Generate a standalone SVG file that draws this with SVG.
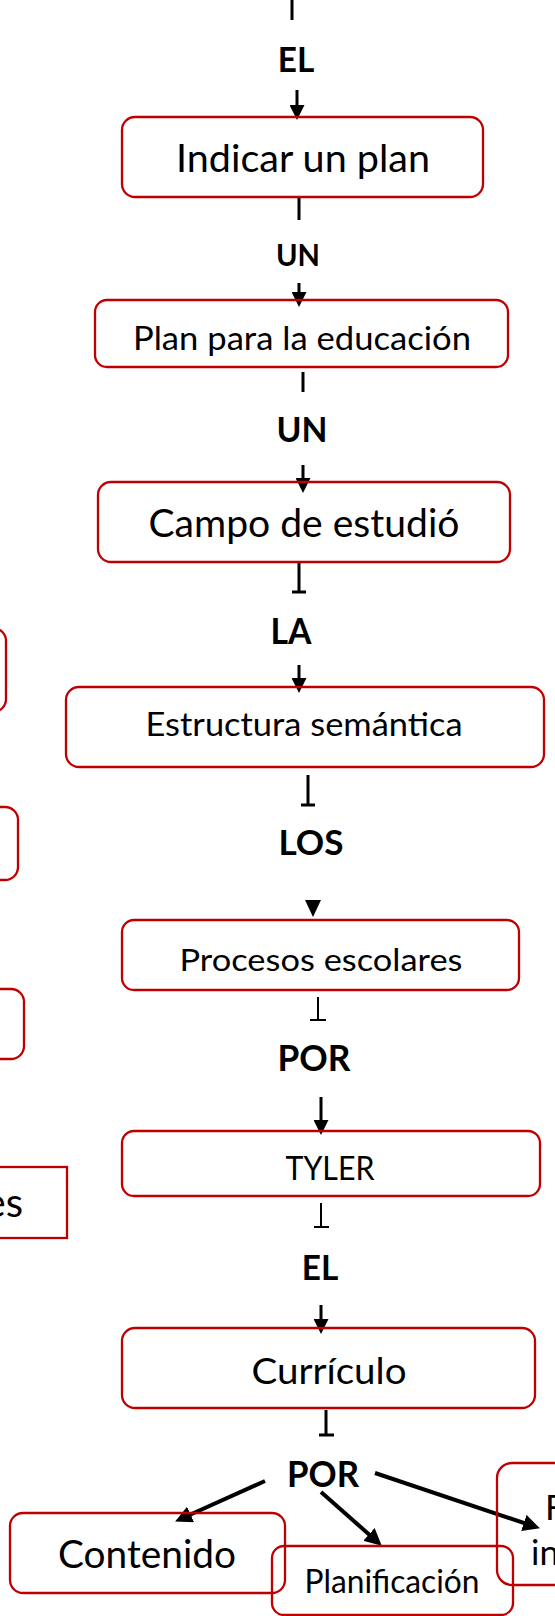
<svg xmlns="http://www.w3.org/2000/svg" width="555" height="1616" viewBox="0 0 555 1616">
<style>
.box{fill:none;stroke:#C00000;stroke-width:2.3}
.t{font-family:Lato,"Liberation Sans",Arial,sans-serif;fill:#000;text-anchor:middle}
.b{font-family:Lato,"Liberation Sans",Arial,sans-serif;font-weight:bold;fill:#000;text-anchor:middle}
.c{fill:none;stroke:#000;stroke-width:3}
.thin{fill:none;stroke:#000;stroke-width:2}
.d{fill:none;stroke:#000;stroke-width:4}
</style>
<defs>
<marker id="ah" markerUnits="userSpaceOnUse" markerWidth="15" markerHeight="15" refX="7" refY="7.5" orient="auto">
<path d="M0,0 L15,7.5 L0,15 z" fill="#000"/>
</marker>
<marker id="ah2" markerUnits="userSpaceOnUse" markerWidth="17" markerHeight="17" refX="8" refY="8.5" orient="auto">
<path d="M0,0 L17,8.5 L0,17 z" fill="#000"/>
</marker>
</defs>

<g id="connectors">
<line class="c" x1="292" y1="0" x2="292" y2="20"/>
<line class="c" x1="297" y1="90" x2="297" y2="112" marker-end="url(#ah)"/>
<line class="c" x1="299" y1="197" x2="299" y2="220"/>
<line class="c" x1="299" y1="283" x2="299" y2="299" marker-end="url(#ah)"/>
<line class="c" x1="303" y1="372" x2="303" y2="392"/>
<line class="c" x1="303" y1="465" x2="303" y2="485" marker-end="url(#ah)"/>
<path class="c" d="M299,562 V592 M292,592 H306"/>
<line class="c" x1="299" y1="665" x2="299" y2="685" marker-end="url(#ah)"/>
<path class="c" d="M308,775 V805 M301,805 H315"/>
<polygon points="305,900 321,900 313,917" fill="#000"/>
<path class="thin" d="M318,997 V1020 M310,1020 H326"/>
<line class="c" x1="321" y1="1097" x2="321" y2="1127" marker-end="url(#ah)"/>
<path class="thin" d="M321,1203 V1227 M314,1227 H329"/>
<line class="c" x1="321" y1="1305" x2="321" y2="1326" marker-end="url(#ah)"/>
<path class="c" d="M326,1410 V1435 M319,1435 H334"/>
<line class="d" x1="265" y1="1481" x2="183.3" y2="1517.7" marker-end="url(#ah2)"/>
<line class="d" x1="321" y1="1492" x2="375" y2="1539.7" marker-end="url(#ah2)"/>
<line class="d" x1="375" y1="1473" x2="531.4" y2="1525.5" marker-end="url(#ah2)"/>
</g>

<g id="lbl-el1"><text class="b" x="296" y="72" font-size="35" textLength="36.5" lengthAdjust="spacingAndGlyphs">EL</text></g>
<g id="n-indicar">
<rect class="box" x="122" y="117" width="361" height="80" rx="13"/>
<text class="t" x="303" y="172" font-size="38.5" textLength="254" lengthAdjust="spacingAndGlyphs">Indicar un plan</text>
</g>
<g id="lbl-un1"><text class="b" x="298" y="266" font-size="31" textLength="44" lengthAdjust="spacingAndGlyphs">UN</text></g>
<g id="n-plan">
<rect class="box" x="95" y="300" width="413" height="67" rx="12"/>
<text class="t" x="302" y="350" font-size="33" textLength="338" lengthAdjust="spacingAndGlyphs">Plan para la educación</text>
</g>
<g id="lbl-un2"><text class="b" x="302" y="442" font-size="35" textLength="51" lengthAdjust="spacingAndGlyphs">UN</text></g>
<g id="n-campo">
<rect class="box" x="98" y="482" width="412" height="80" rx="13"/>
<text class="t" x="304" y="537" font-size="38" textLength="311" lengthAdjust="spacingAndGlyphs">Campo de estudió</text>
</g>
<g id="lbl-la"><text class="b" x="291" y="644" font-size="36" textLength="41" lengthAdjust="spacingAndGlyphs">LA</text></g>
<g id="n-estructura">
<rect class="box" x="66" y="687" width="478" height="80" rx="13"/>
<text class="t" x="304" y="736" font-size="33" textLength="317" lengthAdjust="spacingAndGlyphs">Estructura semántica</text>
</g>
<g id="lbl-los"><text class="b" x="311" y="855" font-size="35" textLength="65" lengthAdjust="spacingAndGlyphs">LOS</text></g>
<g id="n-procesos">
<rect class="box" x="122" y="920" width="397" height="70" rx="12"/>
<text class="t" x="321" y="971" font-size="31.5" textLength="283" lengthAdjust="spacingAndGlyphs">Procesos escolares</text>
</g>
<g id="lbl-por1"><text class="b" x="314" y="1071" font-size="36" textLength="73" lengthAdjust="spacingAndGlyphs">POR</text></g>
<g id="n-tyler">
<rect class="box" x="122" y="1131" width="418" height="65" rx="12"/>
<text class="t" x="330" y="1180" font-size="32" textLength="89" lengthAdjust="spacingAndGlyphs">TYLER</text>
</g>
<g id="lbl-el2"><text class="b" x="320" y="1280" font-size="35" textLength="36.5" lengthAdjust="spacingAndGlyphs">EL</text></g>
<g id="n-curriculo">
<rect class="box" x="122" y="1328" width="413" height="80" rx="13"/>
<text class="t" x="329" y="1384" font-size="37" textLength="155" lengthAdjust="spacingAndGlyphs">Currículo</text>
</g>
<g id="lbl-por2"><text class="b" x="323" y="1487" font-size="37" textLength="72" lengthAdjust="spacingAndGlyphs">POR</text></g>
<g id="n-contenido">
<rect class="box" x="10" y="1513" width="275" height="80" rx="13"/>
<text class="t" x="147" y="1568" font-size="39" textLength="178" lengthAdjust="spacingAndGlyphs">Contenido</text>
</g>
<g id="n-planificacion">
<rect class="box" x="272" y="1546" width="241" height="69" rx="12"/>
<text class="t" x="392" y="1593" font-size="32" textLength="175" lengthAdjust="spacingAndGlyphs">Planificación</text>
</g>
<g id="n-right">
<rect class="box" x="497" y="1463" width="200" height="122" rx="15"/>
<text class="t" x="545" y="1520" font-size="35" style="text-anchor:start">F</text>
<text class="t" x="531" y="1565" font-size="35" style="text-anchor:start">in</text>
</g>
<g id="n-left-a"><rect class="box" x="-200" y="628" width="206" height="84" rx="13"/></g>
<g id="n-left-b"><rect class="box" x="-200" y="807" width="218" height="73" rx="13"/></g>
<g id="n-left-c"><rect class="box" x="-200" y="989" width="224" height="70" rx="13"/></g>
<g id="n-left-d">
<rect class="box" x="-200" y="1167" width="267" height="71"/>
<text class="t" x="23" y="1217" font-size="40" style="text-anchor:end">es</text>
</g>
</svg>
